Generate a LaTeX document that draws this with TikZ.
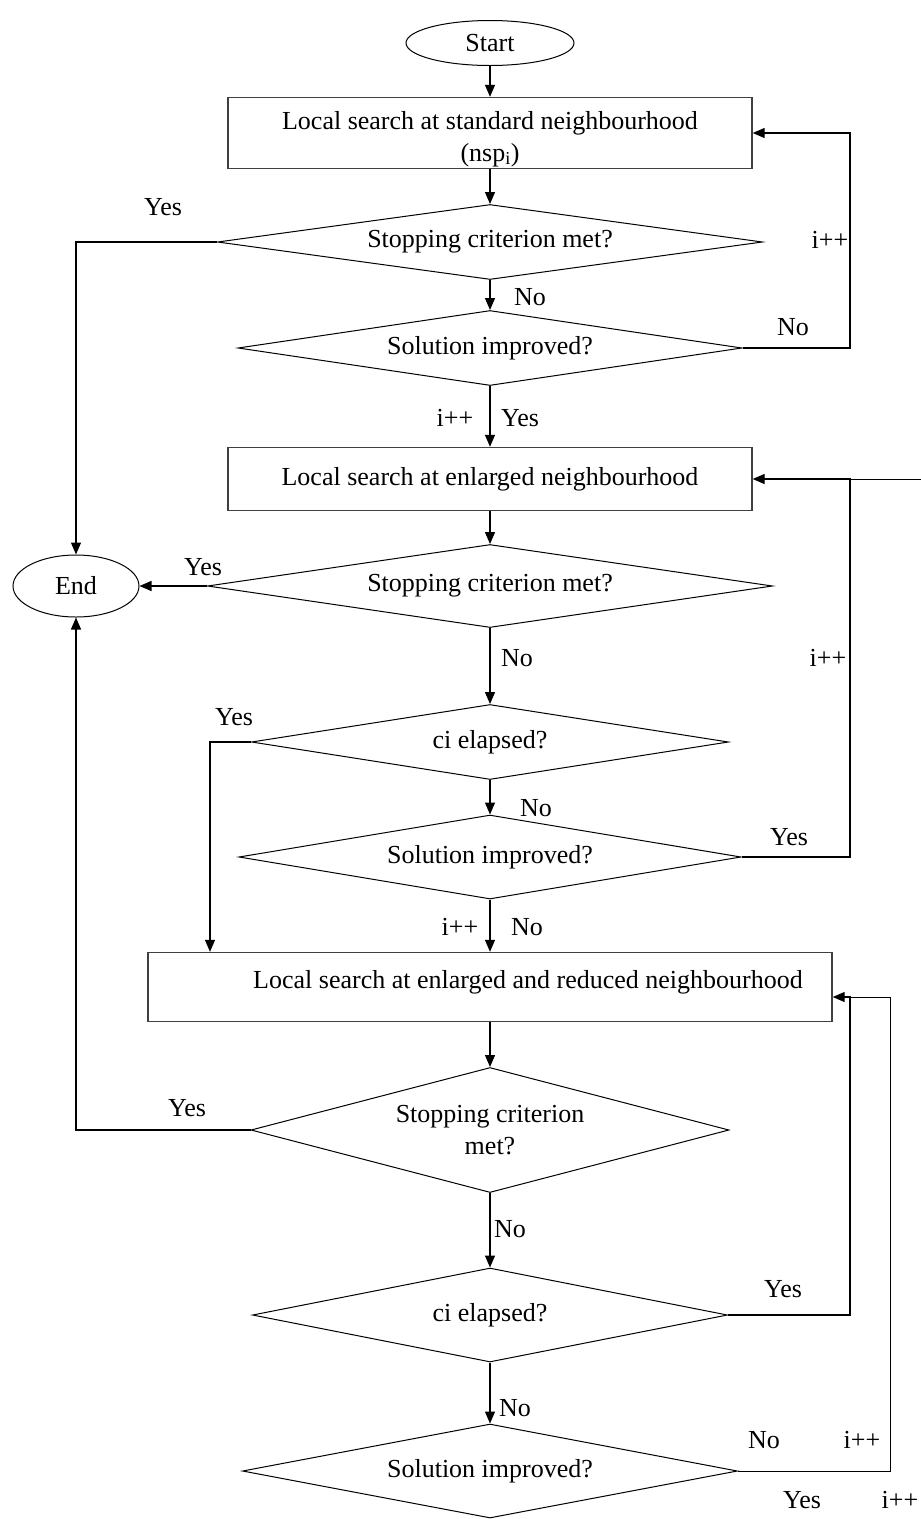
\documentclass[tikz,border=0pt]{standalone}
\usepackage{fontspec}
\setmainfont{Liberation Serif}
\usepackage{tikz}
\usetikzlibrary{shapes.geometric}
\usetikzlibrary{arrows.meta}
\tikzset{>={Triangle[length=12pt,width=10pt]}}

\begin{document}
\begin{tikzpicture}[x=1pt,y=-1pt,
        every node/.style={font=\fontsize{26}{32}\selectfont},
        term/.style={draw,ellipse,line width=1pt,inner sep=0pt},
        proc/.style={draw=black!75,rectangle,line width=1.4pt,inner sep=0pt,align=center},
        decide/.style={draw,diamond,line width=1pt,inner sep=0pt,align=center},
        flow/.style={->,line width=1.3pt}]
        \useasboundingbox (0,0) rectangle (921,1519);

        % columns of the loops
        \coordinate (colA) at (850,0);
        \coordinate (colB) at (890,0);
        \coordinate (colY) at (210,0);
        \coordinate (edge) at (921,0);

        % Start / End
        \node[term,minimum width=168pt,minimum height=45pt] (start) at (490,43) {Start};
        \node[term,minimum width=126pt,minimum height=62pt] (end) at (76,586) {End};

        % 1
        \node[proc,minimum width=524pt,minimum height=71pt] (std) at (490,133) {\rule{0pt}{30pt}Local search at standard neighbourhood\\(nsp\textsubscript{i})};
        \node[decide,aspect=7.3,minimum width=545pt,minimum height=75pt] (stop1) at (490,242) {Stopping criterion met?};
        \node[decide,aspect=6.7,minimum width=504pt,minimum height=75pt] (impr1) at (490,348) {Solution improved?};

        % 2
        \node[proc,minimum width=524pt,minimum height=63pt] (enl) at (490,479) {Local search at enlarged neighbourhood};
        \node[decide,aspect=6.8,minimum width=565pt,minimum height=83pt] (stop2) at (490,586) {Stopping criterion met?};
        \node[decide,aspect=6.4,minimum width=477pt,minimum height=75pt] (ci1) at (490,742) {ci elapsed?};
        \node[decide,aspect=6.1,minimum width=502pt,minimum height=84pt] (impr2) at (490,857) {Solution improved?};

        % 3
        \node[proc,minimum width=684pt,minimum height=69pt,text depth=16pt] (red) at (490,987) {\hspace*{76pt}Local search at enlarged and reduced neighbourhood};
        \node[decide,aspect=3.8,minimum width=478pt,minimum height=125pt] (stop3) at (490,1130) {Stopping criterion\\met?};
        \node[decide,aspect=5.1,minimum width=475pt,minimum height=94pt] (ci2) at (490,1315) {ci elapsed?};
        \node[decide,aspect=5.3,minimum width=495pt,minimum height=94pt] (impr3) at (490,1471) {Solution improved?};
        \coordinate (in3) at ([yshift=-10pt]red.east);

        % down the middle
        \draw[flow] (start) -- (std);
        \draw[flow] (std) -- (stop1);
        \draw[flow] (stop1) -- (impr1);
        \draw[flow] (impr1) -- (enl);
        \draw[flow] (enl) -- (stop2);
        \draw[flow] (stop2) -- (ci1);
        \draw[flow] (ci1) -- (impr2);
        \draw[flow] (impr2) -- (red);
        \draw[flow] (red) -- (stop3);
        \draw[flow] (stop3) -- (ci2);
        \draw[flow] (ci2) -- (impr3);

        % to End
        \draw[flow] (stop1.west) -| (end.north);
        \draw[flow] (stop2.west) -- (stop2.west -| end.east);
        \draw[flow] (stop3.west) -| (end.south);
        \draw[flow] (ci1.west) -| (red.north -| colY);

        % loops back
        \draw[flow] (impr1.east) -| (colA |- std.east) -- (std.east);
        \draw[flow] (impr2.east) -| (colA |- enl.east) -- (enl.east);
        \draw (enl.east -| colA) -- (enl.east -| edge);
        \draw[flow] (ci2.east) -| (colA |- in3) -- (in3);
        \draw (impr3.east) -| (colB |- in3) -- (in3 -| colA);

        % labels
        \node (yes1) at (163,207) {Yes};
        \node (no1) at (530,297) {No};
        \node (no2) at (793,327) {No};
        \node (inc1) at (830,240) {i++};
        \node (inc2) at (455,418) {i++};
        \node (yes2) at (520,418) {Yes};
        \node (yes3) at (203,567) {Yes};
        \node (no3) at (517,658) {No};
        \node (inc3) at (828,658) {i++};
        \node (yes4) at (234,717) {Yes};
        \node (no4) at (536,808) {No};
        \node (yes5) at (789,837) {Yes};
        \node (inc4) at (460,927) {i++};
        \node (no5) at (527,927) {No};
        \node (yes6) at (187,1108) {Yes};
        \node (no6) at (510,1229) {No};
        \node (yes7) at (783,1289) {Yes};
        \node (no7) at (515,1408) {No};
        \node (no8) at (764,1440) {No};
        \node (inc5) at (862,1440) {i++};
        \node (yes8) at (802,1500) {Yes};
        \node (inc6) at (900,1500) {i++};
    \end{tikzpicture}
\end{document}
